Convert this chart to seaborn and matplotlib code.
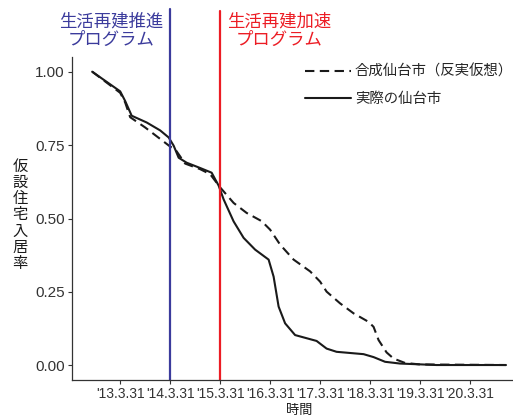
import matplotlib
matplotlib.use("Agg")
import matplotlib.pyplot as plt
import seaborn as sns
import pandas as pd
from matplotlib.lines import Line2D

# Time axis: fiscal-year marks at 31 March of each year (13 = 2013)
tick_pos = [13, 14, 15, 16, 17, 18, 19, 20]
tick_labels = ["'13.3.31", "'14.3.31", "'15.3.31", "'16.3.31",
               "'17.3.31", "'18.3.31", "'19.3.31", "'20.3.31"]
y_ticks = [0.0, 0.25, 0.5, 0.75, 1.0]

# Actual Sendai: share of temporary-housing occupants remaining
actual_t = [12.44, 13.00, 13.10, 13.23, 13.53, 13.80, 13.97, 14.07, 14.17,
            14.33, 14.60, 14.83, 14.97, 15.07, 15.27, 15.47, 15.70, 15.97,
            16.07, 16.17, 16.30, 16.50, 16.93, 17.13, 17.33, 17.87, 18.07,
            18.30, 18.60, 19.33, 20.72]
actual_v = [1.000, 0.933, 0.900, 0.850, 0.827, 0.800, 0.776, 0.748, 0.707,
            0.690, 0.672, 0.656, 0.612, 0.565, 0.490, 0.434, 0.394, 0.360,
            0.302, 0.200, 0.143, 0.103, 0.083, 0.057, 0.046, 0.038, 0.028,
            0.012, 0.006, 0.001, 0.001]

# Synthetic Sendai (counterfactual)
synth_t = [12.44, 13.00, 13.10, 13.20, 13.50, 14.00, 14.10, 14.30, 14.60,
           14.80, 15.00, 15.27, 15.53, 15.83, 16.00, 16.20, 16.47, 16.80,
           17.00, 17.13, 17.40, 17.67, 17.97, 18.07, 18.17, 18.33, 18.47,
           18.70, 19.00, 20.72]
synth_v = [1.000, 0.928, 0.895, 0.845, 0.810, 0.745, 0.736, 0.687, 0.668,
           0.651, 0.606, 0.553, 0.519, 0.491, 0.462, 0.411, 0.360, 0.320,
           0.285, 0.251, 0.211, 0.177, 0.148, 0.131, 0.086, 0.044, 0.023,
           0.008, 0.003, 0.001]

program_x = [14, 15]
program_names = ["生活再建推進\nプログラム", "生活再建加速\nプログラム"]
program_colors = ["#3b3b9c", "#ec1c24"]

series_names = ["合成仙台市（反実仮想）", "実際の仙台市"]

sns.set_theme(style="ticks")
plt.rcParams["font.family"] = ["Noto Sans CJK JP", "DejaVu Sans"]

W, H = 513, 420
fig = plt.figure(figsize=(W / 100, H / 100), dpi=100)
ax = fig.add_axes([71.5 / W, 40 / H, (526.7 - 71.5) / W, 323 / H])

df_a = pd.DataFrame({"t": actual_t, "v": actual_v})
df_s = pd.DataFrame({"t": synth_t, "v": synth_v})

sns.lineplot(data=df_s, x="t", y="v", ax=ax, color="#1a1a1a", lw=1.5,
             linestyle=(0, (4.5, 2.6)), sort=False)
sns.lineplot(data=df_a, x="t", y="v", ax=ax, color="#1a1a1a", lw=1.5,
             sort=False)
for ln in ax.get_lines():
    ln.set_solid_joinstyle("round")
    ln.set_dash_joinstyle("round")

ax.set_xlim(12.026, 21.134)
ax.set_ylim(-0.05, 1.05)

# Program start lines, running up into the title area
tops = [(380 - 9) / 323, (380 - 11) / 323]
for xv, col, top in zip(program_x, program_colors, tops):
    ax.axvline(xv, ymin=0, ymax=top, color=col, lw=1.6, clip_on=False)

for xv, name, col, cx in zip(program_x, program_names, program_colors,
                             [111, 279]):
    fig.text(cx / W, 1 - 30.5 / H, name, color=col, ha="center", va="center",
             fontsize=12.5, linespacing=1.0)

ax.set_xticks(tick_pos)
ax.set_xticklabels(tick_labels, fontfamily="Liberation Sans", fontsize=10,
                   color="#333333")
ax.set_yticks(y_ticks)
ax.set_yticklabels([f"{v:.2f}" for v in y_ticks],
                   fontfamily="Liberation Sans", fontsize=11, color="#333333")
ax.tick_params(axis="both", length=3, width=0.8, color="#333333", pad=2)
for side in ["left", "bottom"]:
    ax.spines[side].set_linewidth(0.9)
    ax.spines[side].set_color("#333333")
sns.despine(ax=ax)

ax.set_xlabel("時間", fontsize=9.5, color="#1a1a1a", labelpad=2)
ax.set_ylabel("")
fig.text(20 / W, 1 - 215 / H, "\n".join("仮設住宅入居率"), ha="center",
         va="center", fontsize=11, linespacing=0.93, color="#1a1a1a")

handles = [Line2D([], [], color="#1a1a1a", lw=1.5, linestyle=(0, (4.5, 2.6))),
           Line2D([], [], color="#1a1a1a", lw=1.5)]
ax.legend(handles, series_names, loc="upper left",
          bbox_to_anchor=(305 / W, 1 - 64.5 / H), bbox_transform=fig.transFigure,
          frameon=False, fontsize=10.4, handlelength=3.2, handletextpad=0.25,
          borderpad=0, borderaxespad=0, labelspacing=0.9)

fig.savefig("out.png", dpi=100)
